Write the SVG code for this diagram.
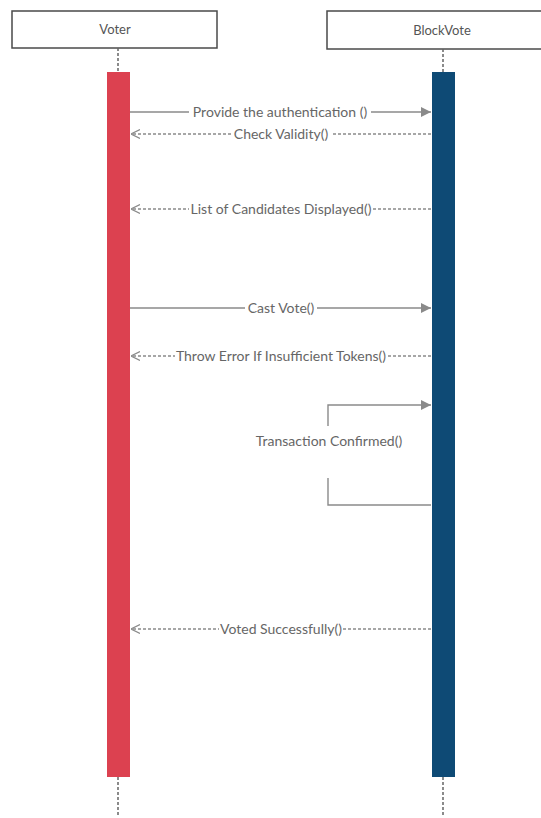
<svg xmlns="http://www.w3.org/2000/svg" width="541" height="818" viewBox="0 0 541 818">
<defs>
<marker id="filled" viewBox="0 0 10 10" refX="10" refY="5" markerWidth="10" markerHeight="10" markerUnits="userSpaceOnUse" orient="auto">
<path d="M0,0 L10,5 L0,10 z" fill="#8a8a8a"/>
</marker>
<marker id="open" viewBox="0 0 10 10" refX="10" refY="5" markerWidth="9" markerHeight="10" markerUnits="userSpaceOnUse" orient="auto">
<path d="M0,0 L10,5 L0,10" fill="none" stroke="#8a8a8a" stroke-width="1.3"/>
</marker>
</defs>
<style>
.box{fill:#fff;stroke:#4a4a4a;stroke-width:1.5}
.title{font-family:Lato,"Liberation Sans",sans-serif;font-size:13px;fill:#555;text-anchor:middle}
.life{stroke:#666;stroke-width:1.5;stroke-dasharray:3,2}
.msg{stroke:#8a8a8a;stroke-width:1.4;fill:none}
.dash{stroke-dasharray:3,2}
.lbl{font-family:Lato,"Liberation Sans",sans-serif;font-size:14px;fill:#666;text-anchor:middle}
.bg{fill:#fff}
</style>
<rect width="541" height="818" fill="#fff"/>
<g id="voter">
<rect class="box" x="12" y="11" width="205" height="37"/>
<text class="title" x="115" y="34">Voter</text>
<line class="life" x1="118" y1="48" x2="118" y2="72"/>
<line class="life" x1="118" y1="777" x2="118" y2="816"/>
<rect x="107" y="72" width="23" height="705" fill="#dc4150"/>
</g>
<g id="blockvote">
<rect class="box" x="327" y="11" width="230" height="38"/>
<text class="title" x="442" y="35">BlockVote</text>
<line class="life" x1="443" y1="49" x2="443" y2="72"/>
<line class="life" x1="443" y1="777" x2="443" y2="816"/>
<rect x="432" y="72" width="23" height="705" fill="#0e4a75"/>
</g>
<g id="connectors">
<line class="msg" x1="130" y1="112" x2="431" y2="112" marker-end="url(#filled)"/>
<line class="msg dash" x1="431" y1="134" x2="131" y2="134" marker-end="url(#open)"/>
<line class="msg dash" x1="431" y1="209" x2="131" y2="209" marker-end="url(#open)"/>
<line class="msg" x1="130" y1="308" x2="431" y2="308" marker-end="url(#filled)"/>
<line class="msg dash" x1="431" y1="356" x2="131" y2="356" marker-end="url(#open)"/>
<path class="msg" d="M431,505 H328 V478 M328,426 V405 H431" marker-end="url(#filled)"/>
<line class="msg dash" x1="431" y1="629" x2="131" y2="629" marker-end="url(#open)"/>
</g>
<g id="labels">
<rect class="bg" x="189" y="104" width="182" height="16"/>
<text class="lbl" x="280" y="117">Provide the authentication ()</text>
<rect class="bg" x="231" y="127" width="100" height="15"/>
<text class="lbl" x="281" y="139">Check Validity()</text>
<rect class="bg" x="189" y="201" width="184" height="16"/>
<text class="lbl" x="281" y="214">List of Candidates Displayed()</text>
<rect class="bg" x="245" y="300" width="72" height="16"/>
<text class="lbl" x="281" y="313">Cast Vote()</text>
<rect class="bg" x="175" y="348" width="212" height="16"/>
<text class="lbl" x="281" y="361">Throw Error If Insufficient Tokens()</text>
<text class="lbl" x="329" y="446">Transaction Confirmed()</text>
<rect class="bg" x="219" y="621" width="124" height="16"/>
<text class="lbl" x="281" y="634">Voted Successfully()</text>
</g>
</svg>
